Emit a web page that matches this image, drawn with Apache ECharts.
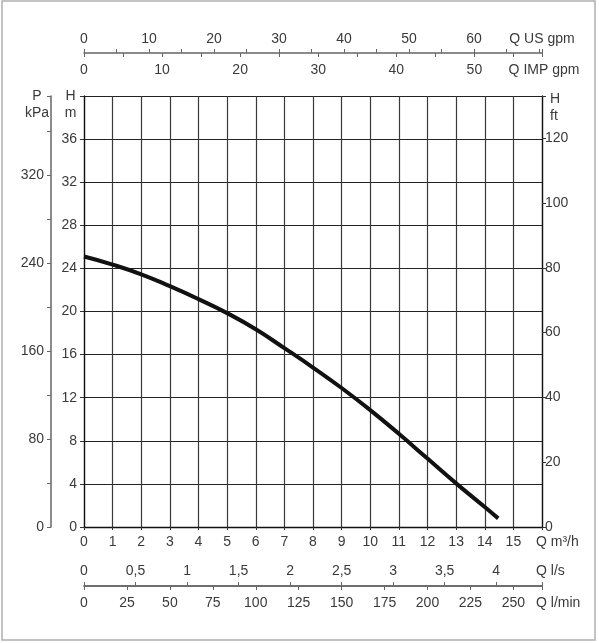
<!DOCTYPE html>
<html>
<head>
<meta charset="utf-8">
<script src="https://cdn.jsdelivr.net/npm/echarts@6/dist/echarts.min.js"></script>
<style>
  html, body { margin: 0; padding: 0; background: #fff; }
  #main { width: 599px; height: 643px; }
</style>
</head>
<body>
<div id="main"></div>
<script>
// pump curve
var flowM3h = [0, 1, 2, 3, 4, 5, 6, 7, 8, 9, 10, 11, 12, 13, 14, 14.47];
var headM = [25.1, 24.35, 23.45, 22.35, 21.15, 19.85, 18.35, 16.6, 14.8, 12.9, 10.85, 8.65, 6.35, 4.05, 1.85, 0.8];

// tick labels
var m3hLabels = [0, 1, 2, 3, 4, 5, 6, 7, 8, 9, 10, 11, 12, 13, 14, 15];
var lsLabels = [0, 0.5, 1, 1.5, 2, 2.5, 3, 3.5, 4];
var lminLabels = [0, 25, 50, 75, 100, 125, 150, 175, 200, 225, 250];
var usGpmLabels = [0, 10, 20, 30, 40, 50, 60];
var impGpmLabels = [0, 10, 20, 30, 40, 50];
var hmLabels = [0, 4, 8, 12, 16, 20, 24, 28, 32, 36];
var kpaLabels = [0, 80, 160, 240, 320];
var ftLabels = [0, 20, 40, 60, 80, 100, 120];

// axis ranges (all share the same plot span)
var maxM3h = 16;
var maxLs = maxM3h / 3.6;
var maxLmin = maxM3h * 1000 / 60;
var maxUS = maxM3h / 0.2271247;
var maxIMP = maxM3h / 0.2727655;
var maxH = 40;
var maxKPa = maxH * 9.81;
var maxFt = 133; // the ft scale in the picture sits a bit off the true one

var chartDom = document.getElementById("main");
var myChart = echarts.init(chartDom);

var FONT = "Liberation Sans";
var TXT = "#3a3a3a";

function pick(list, fmt) {
  return function (v) {
    for (var i = 0; i < list.length; i++) {
      if (Math.abs(list[i] - v) < 1e-6) return fmt ? fmt(v) : String(v);
    }
    return "";
  };
}

function lbl(extra) {
  var o = { color: TXT, fontFamily: FONT, fontSize: 14 };
  for (var k in extra) o[k] = extra[k];
  return o;
}

var option = {
  animation: false,
  graphic: [
    {
      type: "rect",
      shape: { x: 2, y: 1, width: 593, height: 639 },
      style: { fill: "none", stroke: "#b0b0b0", lineWidth: 1.5 },
    },
  ],
  grid: { left: 84, right: 57, top: 96, bottom: 116, containLabel: false, outerBoundsMode: "none" },
  xAxis: [
    {
      type: "value",
      position: "bottom",
      min: 0,
      max: maxM3h,
      interval: 1,
      axisLine: { onZero: false, lineStyle: { color: "#111", width: 1.3 } },
      axisTick: { show: true, length: 3, lineStyle: { color: "#333" } },
      axisLabel: lbl({ margin: 8, formatter: pick(m3hLabels) }),
      splitLine: { show: true, lineStyle: { color: "#3a3a3a", width: 1.2 } },
      name: "Q m³/h",
      nameLocation: "end",
      nameGap: -6,
      nameMoveOverlap: false,
      nameTextStyle: lbl({ align: "left", verticalAlign: "top", padding: [8, 0, 0, 0] }),
    },
    {
      type: "value",
      position: "bottom",
      offset: 59,
      min: 0,
      max: maxLs,
      interval: 0.5,
      axisLine: { onZero: false, lineStyle: { color: "#666", width: 1.5 } },
      axisTick: { show: true, inside: true, length: 4, lineStyle: { color: "#666" } },
      axisLabel: lbl({
        inside: true,
        margin: 8,
        formatter: pick(lsLabels, function (v) { return String(v).replace(".", ","); }),
      }),
      splitLine: { show: false },
      name: "Q l/s",
      nameLocation: "end",
      nameGap: -6,
      nameMoveOverlap: false,
      nameTextStyle: lbl({ align: "left", verticalAlign: "bottom", padding: [0, 0, 8, 0] }),
    },
    {
      type: "value",
      position: "bottom",
      offset: 59,
      min: 0,
      max: maxLmin,
      interval: 25,
      axisLine: { onZero: false, lineStyle: { color: "#666", width: 1.5 } },
      axisTick: { show: true, length: 4, lineStyle: { color: "#666" } },
      axisLabel: lbl({ margin: 10, formatter: pick(lminLabels) }),
      splitLine: { show: false },
      name: "Q l/min",
      nameLocation: "end",
      nameGap: -6,
      nameMoveOverlap: false,
      nameTextStyle: lbl({ align: "left", verticalAlign: "top", padding: [10, 0, 0, 0] }),
    },
    {
      type: "value",
      position: "top",
      offset: 43,
      min: 0,
      max: maxUS,
      interval: 5,
      axisLine: { onZero: false, lineStyle: { color: "#666", width: 1.5 } },
      axisTick: { show: true, length: 4, lineStyle: { color: "#666" } },
      axisLabel: lbl({ margin: 7, formatter: pick(usGpmLabels) }),
      splitLine: { show: false },
      name: "Q US gpm",
      nameLocation: "end",
      nameGap: 0,
      nameMoveOverlap: false,
      nameTextStyle: lbl({ align: "center", verticalAlign: "bottom", padding: [0, 0, 7, 0] }),
    },
    {
      type: "value",
      position: "top",
      offset: 43,
      min: 0,
      max: maxIMP,
      interval: 5,
      axisLine: { show: false, onZero: false },
      axisTick: { show: true, inside: true, length: 4, lineStyle: { color: "#666" } },
      axisLabel: lbl({ inside: true, margin: 10, formatter: pick(impGpmLabels) }),
      splitLine: { show: false },
      name: "Q IMP gpm",
      nameLocation: "end",
      nameGap: 2,
      nameMoveOverlap: false,
      nameTextStyle: lbl({ align: "center", verticalAlign: "top", padding: [10, 0, 0, 0] }),
    },
  ],
  yAxis: [
    {
      type: "value",
      position: "left",
      min: 0,
      max: maxH,
      interval: 4,
      axisLine: { show: true, onZero: false, lineStyle: { color: "#111", width: 1.3 } },
      axisTick: { show: true, length: 4, lineStyle: { color: "#333" } },
      axisLabel: lbl({ margin: 7, formatter: pick(hmLabels) }),
      splitLine: { show: true, lineStyle: { color: "#222", width: 1.2 } },
      name: "H\nm",
      nameLocation: "end",
      nameGap: 8,
      nameMoveOverlap: false,
      nameTextStyle: lbl({ align: "center", verticalAlign: "top", lineHeight: 17, padding: [0, 27, 0, 0] }),
    },
    {
      type: "value",
      position: "left",
      offset: 33,
      min: 0,
      max: maxKPa,
      interval: 40,
      axisLine: { show: true, onZero: false, lineStyle: { color: "#666", width: 1.5 } },
      axisTick: { show: true, length: 4, lineStyle: { color: "#666" } },
      axisLabel: lbl({ margin: 7, formatter: pick(kpaLabels) }),
      splitLine: { show: false },
      name: "P\nkPa",
      nameLocation: "end",
      nameGap: 8,
      nameMoveOverlap: false,
      nameTextStyle: lbl({ align: "center", verticalAlign: "top", lineHeight: 17, padding: [0, 28, 0, 0] }),
    },
    {
      type: "value",
      position: "right",
      min: 0,
      max: maxFt,
      interval: 20,
      axisLine: { show: true, onZero: false, lineStyle: { color: "#111", width: 1.3 } },
      axisTick: { show: true, length: 4, lineStyle: { color: "#333" } },
      axisLabel: lbl({ margin: 3, formatter: pick(ftLabels) }),
      splitLine: { show: false },
      name: "H\nft",
      nameLocation: "end",
      nameGap: 5,
      nameMoveOverlap: false,
      nameTextStyle: lbl({ align: "left", verticalAlign: "top", lineHeight: 17, padding: [0, 0, 0, 8] }),
    },
  ],
  series: [
    {
      type: "line",
      xAxisIndex: 0,
      yAxisIndex: 0,
      smooth: 0.5,
      showSymbol: false,
      lineStyle: { color: "#111", width: 4 },
      data: flowM3h.map(function (q, i) {
        return [q, headM[i]];
      }),
    },
  ],
};

option && myChart.setOption(option);
</script>
</body>
</html>
